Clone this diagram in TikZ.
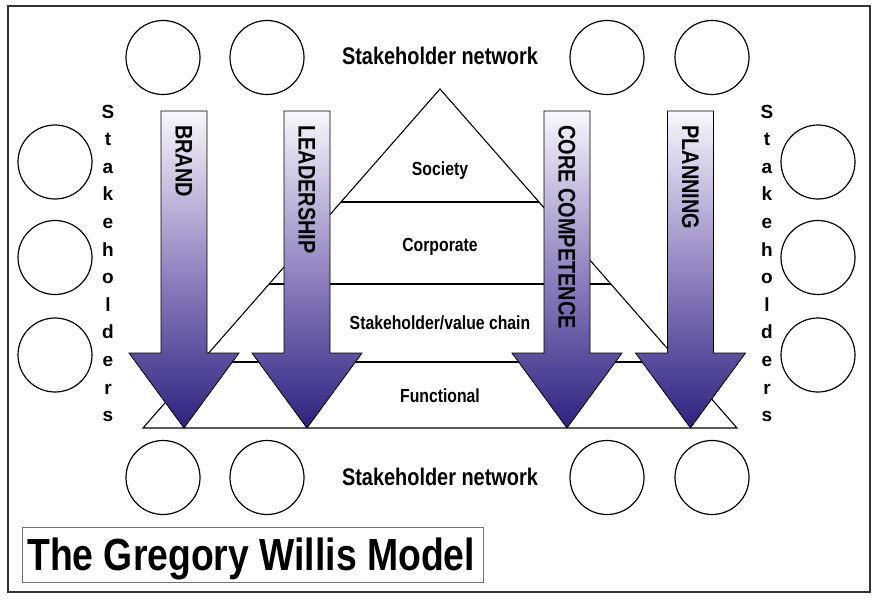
\documentclass[tikz,border=0pt]{standalone}
\usepackage{fontspec}
\setmainfont{Liberation Sans}[FakeStretch=0.83]
\newfontfamily\widesans{Liberation Sans}
\usetikzlibrary{calc}
\definecolor{arrtop}{RGB}{248,247,252}
\definecolor{arrmid}{RGB}{146,133,193}
\definecolor{arrbot}{RGB}{46,34,128}
\newcommand\gwarrow[3]{%
  \path[bigarrow] (#1-23,111) -- (#1+23,111) -- (#1+23,353) -- (#1+55,353) -- (#1,428) -- (#1-55,353) -- (#1-23,353) -- cycle;
  \node[arrlabel] (#2) at (#1,125) {#3};}
\begin{document}
\begin{tikzpicture}[x=1pt,y=-1pt,
  ring/.style={circle,draw=black,line width=1.2pt,minimum size=74pt,inner sep=0pt},
  layer/.style={font=\fontsize{19}{22}\selectfont\bfseries,anchor=base,inner sep=0pt},
  net/.style={font=\fontsize{24}{28}\selectfont\bfseries,anchor=base,inner sep=0pt},
  vlet/.style={font=\widesans\fontsize{19}{22}\selectfont\bfseries,anchor=base,inner sep=0pt},
  arrlabel/.style={font=\fontsize{24}{28}\selectfont\bfseries,rotate=-90,anchor=west,inner sep=0pt},
  bigarrow/.style={draw=black,line width=0.8pt,top color=arrtop,bottom color=arrbot,middle color=arrmid},
  pyr/.style={draw=black,line width=1.1pt},
]
\useasboundingbox (0,0) rectangle (878,602);
\draw[line width=1.5pt,draw=black!80] (8,6) rectangle (870,592);
% title
\node[draw=black!55,line width=1pt,minimum width=461pt,minimum height=55pt,inner sep=0pt] (titlebox) at (252.5,554.5) {};
\node[font=\fontsize{45}{50}\selectfont\bfseries,anchor=base west,inner sep=0pt] (title) at (27,570) {The Gregory Willis Model};
% pyramid
\coordinate (apex) at (440,89);
\coordinate (bl) at (143,428);
\coordinate (br) at (737,428);
\draw[pyr] (apex) -- (bl) -- (br) -- cycle;
\draw[pyr] ($(apex)!0.3333!(bl)$) -- ($(apex)!0.3333!(br)$);
\draw[pyr] ($(apex)!0.5752!(bl)$) -- ($(apex)!0.5752!(br)$);
\draw[pyr] ($(apex)!0.8053!(bl)$) -- ($(apex)!0.8053!(br)$);
\node[layer] (society) at (440,175) {Society};
\node[layer] (corporate) at (440,251) {Corporate};
\node[layer] (valuechain) at (440,329) {Stakeholder/value chain};
\node[layer] (functional) at (440,402) {Functional};
% network labels
\node[net] (nettop) at (440,65) {Stakeholder network};
\node[net] (netbot) at (440,485) {Stakeholder network};
% circles
\node[ring] (t1) at (163,57.5) {};
\node[ring] (t2) at (267,57.5) {};
\node[ring] (t3) at (607,57.5) {};
\node[ring] (t4) at (712,57.5) {};
\node[ring] (b1) at (163,477.5) {};
\node[ring] (b2) at (267,477.5) {};
\node[ring] (b3) at (607,477.5) {};
\node[ring] (b4) at (712,477.5) {};
\node[ring] (l1) at (55,162) {};
\node[ring] (l2) at (55,257.5) {};
\node[ring] (l3) at (55,355) {};
\node[ring] (r1) at (818,162) {};
\node[ring] (r2) at (818,257.5) {};
\node[ring] (r3) at (818,355) {};
% vertical Stakeholders
\foreach \ch [count=\i] in {S,t,a,k,e,h,o,l,d,e,r,s} {
  \node[vlet] (sl\i) at (108,118+27.6*\i-27.6) {\ch};
  \node[vlet] (sr\i) at (767,118+27.6*\i-27.6) {\ch};
}
% arrows
\gwarrow{184}{brand}{BRAND}
\gwarrow{307}{leadership}{LEADERSHIP}
\gwarrow{567}{core}{CORE COMPETENCE}
\gwarrow{690.5}{planning}{PLANNING}
\end{tikzpicture}
\end{document}
